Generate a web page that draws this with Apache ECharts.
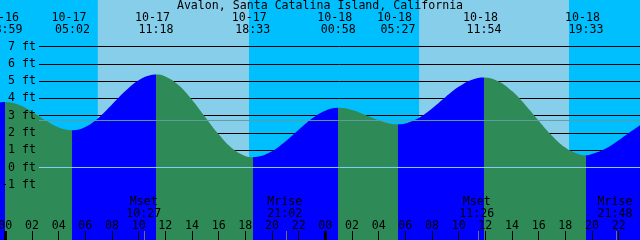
<!DOCTYPE html>
<html><head><meta charset="utf-8">
<script src="https://cdn.jsdelivr.net/npm/echarts@6/dist/echarts.min.js"></script>
<style>html,body{margin:0;padding:0;background:#00BFFF}#c{width:640px;height:240px}</style>
</head><body><div id="c"></div>
<script>
// ---------------- data ----------------
const chartTitle = 'Avalon, Santa Catalina Island, California';
// tide curve, hours since 10-17 00:00 and feet
const tideHours = [-0.4, -0.017, 1, 2, 3, 4, 5.033, 6, 7, 8, 9, 10, 11, 11.3, 12, 13, 14, 15, 16, 17, 18, 18.55,
  19, 20, 21, 22, 23, 24, 24.967, 26, 27, 28, 29, 29.45, 30, 31, 32, 33, 34, 35, 35.9,
  37, 38, 39, 40, 41, 42, 43, 43.55, 44, 45, 46, 47, 47.6];
const tideFeet = [3.77, 3.79, 3.63, 3.23, 2.73, 2.32, 2.16, 2.35, 2.88, 3.64, 4.42, 5.05, 5.36, 5.38, 5.27, 4.76, 3.92, 2.91, 1.92, 1.12, 0.67, 0.60,
  0.63, 0.94, 1.51, 2.19, 2.84, 3.29, 3.45, 3.33, 3.04, 2.73, 2.52, 2.50, 2.55, 2.87, 3.42, 4.07, 4.67, 5.08, 5.21,
  4.98, 4.42, 3.62, 2.71, 1.84, 1.15, 0.77, 0.71, 0.78, 1.08, 1.58, 2.13, 2.45];
// high / low tide events
const extremeDates = ['10-16', '10-17', '10-17', '10-17', '10-18', '10-18', '10-18', '10-18'];
const extremeTimes = ['23:59', '05:02', '11:18', '18:33', '00:58', '05:27', '11:54', '19:33'];
// moon events
const moonNames = ['Mset', 'Mrise', 'Mset', 'Mrise'];
const moonDates = ['10-17', '10-17', '10-18', '10-18'];
const moonTimes = ['10:27', '21:02', '11:26', '21:48'];
// sun
const sunriseStamps = ['10-17 06:56', '10-18 07:02'];
const sunsetStamps = ['10-17 18:17', '10-18 18:17'];
// axes
const hourTicks = [0, 2, 4, 6, 8, 10, 12, 14, 16, 18, 20, 22, 24, 26, 28, 30, 32, 34, 36, 38, 40, 42, 44, 46, 48];
const midnightTicks = [0, 24];
const footLabels = [-1, 0, 1, 2, 3, 4, 5, 6, 7];
const footGridLines = [-4, -3, -2, -1, 0, 1, 2, 3, 4, 5, 6, 7];
const meanSeaLevelFeet = 2.72;
const datumFeet = 0;
const hourMin = -0.4, hourMax = 47.6;
const feetMax = 7;

// ---------------- helpers ----------------
function toHours(date, time) {
  const day = +date.split('-')[1];
  const [h, m] = time.split(':').map(Number);
  return (day - 17) * 24 + h + m / 60;
}
function stampHours(s) { const p = s.split(' '); return toHours(p[0], p[1]); }
function heightAt(h) {
  let best = 0;
  tideHours.forEach((t, i) => { if (Math.abs(t - h) < Math.abs(tideHours[best] - h)) best = i; });
  return tideFeet[best];
}
const FONT = 'DejaVu Sans Mono';
const FS = 11.6;
const DAY = '#87CEEB', NIGHT = '#00BFFF', RISE = '#0000FF', FALL = '#2E8B57';

// vertical layout: 7 ft line at y=46.5, 17.2857 px per foot, grid runs to the bottom edge
const PLOT_TOP = 46.5, PX_PER_FT = 17.2857, H = 240;
const feetMin = feetMax - (H - PLOT_TOP) / PX_PER_FT;

const extremeHours = extremeDates.map((d, i) => toHours(d, extremeTimes[i]));
const moonHours = moonDates.map((d, i) => toHours(d, moonTimes[i]));
const sunrise = sunriseStamps.map(stampHours), sunset = sunsetStamps.map(stampHours);

const bgData = [
  [hourMin, sunrise[0], 0], [sunrise[0], sunset[0], 1], [sunset[0], sunrise[1], 0],
  [sunrise[1], sunset[1], 1], [sunset[1], hourMax, 0]
];

const bounds = [hourMin, ...extremeHours, hourMax];
const pieces = [];
for (let i = 0; i < bounds.length - 1; i++) {
  const rising = heightAt(bounds[i + 1]) > heightAt(bounds[i]);
  const p = { color: rising ? RISE : FALL };
  if (i > 0) p.gte = bounds[i];
  if (i < bounds.length - 2) p.lt = bounds[i + 1];
  pieces.push(p);
}

const full = { left: 0, right: 0, top: 0, bottom: 0, outerBoundsMode: 'none', containLabel: false };
const tideGridFill = { left: 0, right: 0, top: PLOT_TOP, bottom: 0, outerBoundsMode: 'none', containLabel: false };
const tideGridLines = { left: 39, right: 0, top: PLOT_TOP, bottom: 0, outerBoundsMode: 'none', containLabel: false };
const hidX = (g) => ({ type: 'value', gridIndex: g, min: hourMin, max: hourMax, show: false });
const hidY = (g, a, b) => ({ type: 'value', gridIndex: g, min: a, max: b, show: false });

const chart = echarts.init(document.getElementById('c'), null, { renderer: 'canvas' });
chart.setOption({
  animation: false,
  backgroundColor: NIGHT,
  title: { text: chartTitle, left: 'center', top: 0, padding: 0,
    textStyle: { fontFamily: FONT, fontSize: FS, fontWeight: 'normal', color: '#000' } },
  grid: [full, tideGridFill, tideGridLines, tideGridLines, full, full],
  xAxis: [
    { type: 'value', gridIndex: 0, min: hourMin, max: hourMax, position: 'bottom', z: 10,
      axisLine: { show: false }, splitLine: { show: false },
      axisTick: { show: true, inside: true, length: 9, customValues: hourTicks, lineStyle: { color: '#000', width: 1 } },
      axisLabel: { show: true, inside: true, margin: 8, customValues: hourTicks, color: '#000', fontFamily: FONT, fontSize: FS,
        showMinLabel: true, showMaxLabel: true, hideOverlap: false,
        formatter: v => String(((Math.round(v) % 24) + 24) % 24).padStart(2, '0') } },
    hidX(1), hidX(2), hidX(3),
    { type: 'value', gridIndex: 4, min: hourMin, max: hourMax, position: 'bottom', z: 10,
      axisLine: { show: false }, splitLine: { show: false }, axisLabel: { show: false },
      axisTick: { show: true, inside: true, length: 9, customValues: midnightTicks, lineStyle: { color: '#000', width: 3 } } },
    { type: 'value', gridIndex: 5, min: hourMin, max: hourMax, position: 'bottom', z: 9,
      axisLine: { show: false }, splitLine: { show: false }, axisLabel: { show: false },
      axisTick: { show: true, inside: true, length: 9, customValues: moonHours, lineStyle: { color: '#707070', width: 1 } } }
  ],
  yAxis: [
    hidY(0, 0, 1), hidY(1, feetMin, feetMax), hidY(2, feetMin, feetMax),
    { type: 'value', gridIndex: 3, min: feetMin, max: feetMax, z: 10,
      axisLine: { show: false }, axisTick: { show: false }, splitLine: { show: false },
      axisLabel: { show: true, margin: 3, customValues: footLabels, color: '#000', fontFamily: FONT, fontSize: FS,
        formatter: v => v + ' ft' } },
    hidY(4, 0, 1), hidY(5, 0, 1)
  ],
  visualMap: [{ type: 'piecewise', show: false, seriesIndex: 1, dimension: 0, pieces: pieces }],
  series: [
    { type: 'custom', xAxisIndex: 0, yAxisIndex: 0, z: 1, silent: true, data: bgData,
      encode: { x: [0, 1] },
      renderItem: (params, api) => {
        const x0 = api.coord([api.value(0), 0])[0];
        const x1 = api.coord([api.value(1), 0])[0];
        const cs = params.coordSys;
        return { type: 'rect', shape: { x: x0, y: cs.y, width: x1 - x0, height: cs.height },
          style: { fill: api.value(2) ? DAY : NIGHT } };
      } },
    { type: 'line', xAxisIndex: 1, yAxisIndex: 1, z: 5, silent: true, smooth: 0.4,
      showSymbol: false, symbol: 'none', lineStyle: { width: 0 },
      areaStyle: { opacity: 1, origin: 'start' },
      data: tideHours.map((h, i) => [h, tideFeet[i]]) },
    { type: 'line', xAxisIndex: 2, yAxisIndex: 2, z: 3, silent: true, symbol: 'none',
      lineStyle: { width: 0 }, data: [],
      markLine: { silent: true, symbol: 'none', z: 3, animation: false, label: { show: false },
        lineStyle: { color: '#000', width: 1, type: 'solid' },
        data: footGridLines.map(v => ({ yAxis: v })) } },
    { type: 'line', xAxisIndex: 2, yAxisIndex: 2, z: 6, silent: true, symbol: 'none',
      lineStyle: { color: '#5F9EA0', width: 1 }, data: [[hourMin, meanSeaLevelFeet], [hourMax, meanSeaLevelFeet]] },
    { type: 'line', xAxisIndex: 2, yAxisIndex: 2, z: 6, silent: true, symbol: 'none',
      lineStyle: { color: '#87CEFA', width: 1 }, data: [[hourMin, datumFeet], [hourMax, datumFeet]] },
    { type: 'custom', xAxisIndex: 0, yAxisIndex: 0, z: 10, silent: true,
      data: extremeHours.map((h, i) => [h, i]),
      renderItem: (params, api) => {
        const x = api.coord([api.value(0), 0])[0];
        const i = api.value(1);
        const st = { fontFamily: FONT, fontSize: FS, fill: '#000', align: 'center', verticalAlign: 'middle' };
        return { type: 'group', children: [
          { type: 'text', x: x - 3.5, y: 17.5, style: Object.assign({ text: extremeDates[i] }, st) },
          { type: 'text', x: x, y: 29.5, style: Object.assign({ text: extremeTimes[i] }, st) }
        ] };
      } },
    { type: 'custom', xAxisIndex: 0, yAxisIndex: 0, z: 10, silent: true,
      data: moonHours.map((h, i) => [h, i]),
      renderItem: (params, api) => {
        const x = api.coord([api.value(0), 0])[0];
        const i = api.value(1);
        const st = { fontFamily: FONT, fontSize: FS, fill: '#000', align: 'center', verticalAlign: 'middle' };
        return { type: 'group', children: [
          { type: 'text', x: x - 1, y: 201.5, style: Object.assign({ text: moonNames[i] }, st) },
          { type: 'text', x: x - 1, y: 213.5, style: Object.assign({ text: moonTimes[i] }, st) }
        ] };
      } }
  ]
});
</script></body></html>
